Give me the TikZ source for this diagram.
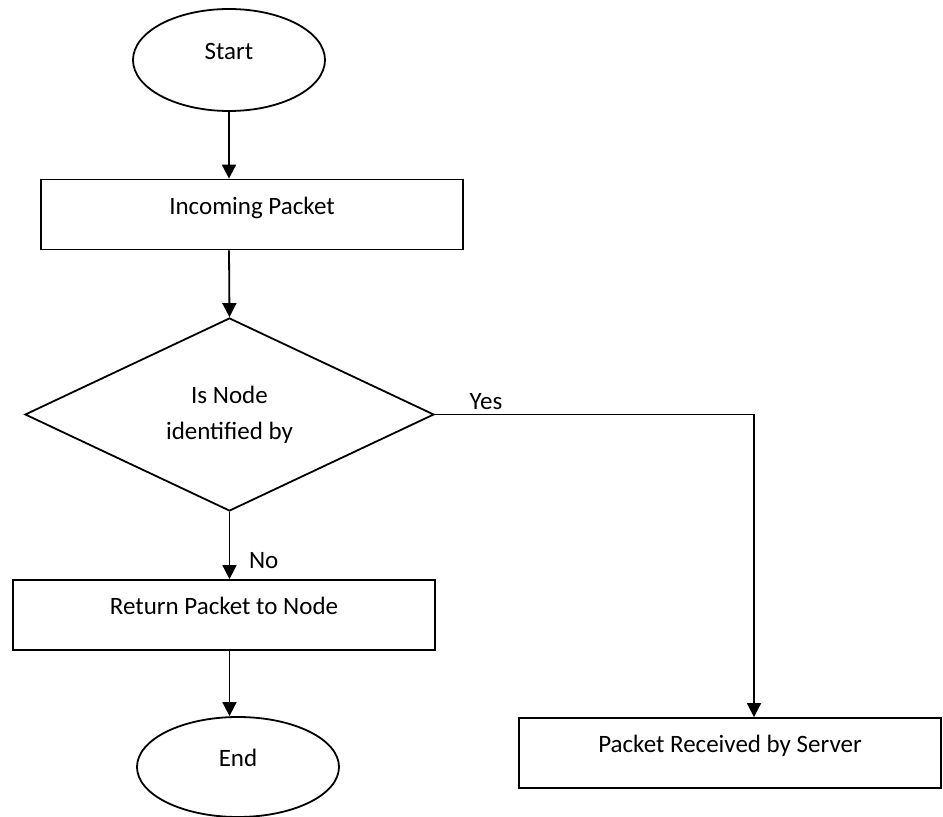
\documentclass[tikz,border=0pt]{standalone}
\usepackage{fontspec}
\setmainfont{Carlito}
\usetikzlibrary{arrows.meta,shapes.geometric,positioning}

\begin{document}
\begin{tikzpicture}[x=0.5pt,y=-0.5pt,line width=0.9pt,
    >={Triangle[length=7pt,width=7pt]},
    font=\fontsize{12.5}{18}\selectfont,
    term/.style={ellipse,draw,minimum width=96pt,minimum height=51pt,inner sep=0pt,
        text height=0.9em,text depth=0.9em},
    process/.style={rectangle,draw,minimum width=211pt,minimum height=35pt,inner sep=0pt,
        text height=0.9em,text depth=0.9em},
    decision/.style={diamond,draw,aspect=2.1,minimum width=204.5pt,minimum height=96.5pt,
        inner sep=0pt,align=center}]
\useasboundingbox (0,0) rectangle (943,817);

\node[term] (start) at (229,60) {Start};
\node[process] (inc) at (252,214.5) {Incoming Packet};
\node[decision] (dec) at (229.5,414.5) {Is Node\\identified by};
\node[process] (ret) at (224,615) {Return Packet to Node};
\node[term,minimum width=101pt,minimum height=50pt] (end) at (238,767) {End};
\node[process] (srv) at (730,753) {Packet Received by Server};

\draw[->] (start.south) -- (start.south |- inc.north);
\draw[->] (start.south |- inc.south) -- (dec.north);
\draw[->] (dec.south) -- node[pos=0.72,right=6pt] {No} (dec.south |- ret.north);
\draw[->] (dec.south |- ret.south) -- (dec.south |- end.north);
\draw[->] (dec.east) -| node[pos=0.08,above=1pt,inner sep=1pt] {Yes} ([xshift=12pt]srv.north);
\end{tikzpicture}
\end{document}
